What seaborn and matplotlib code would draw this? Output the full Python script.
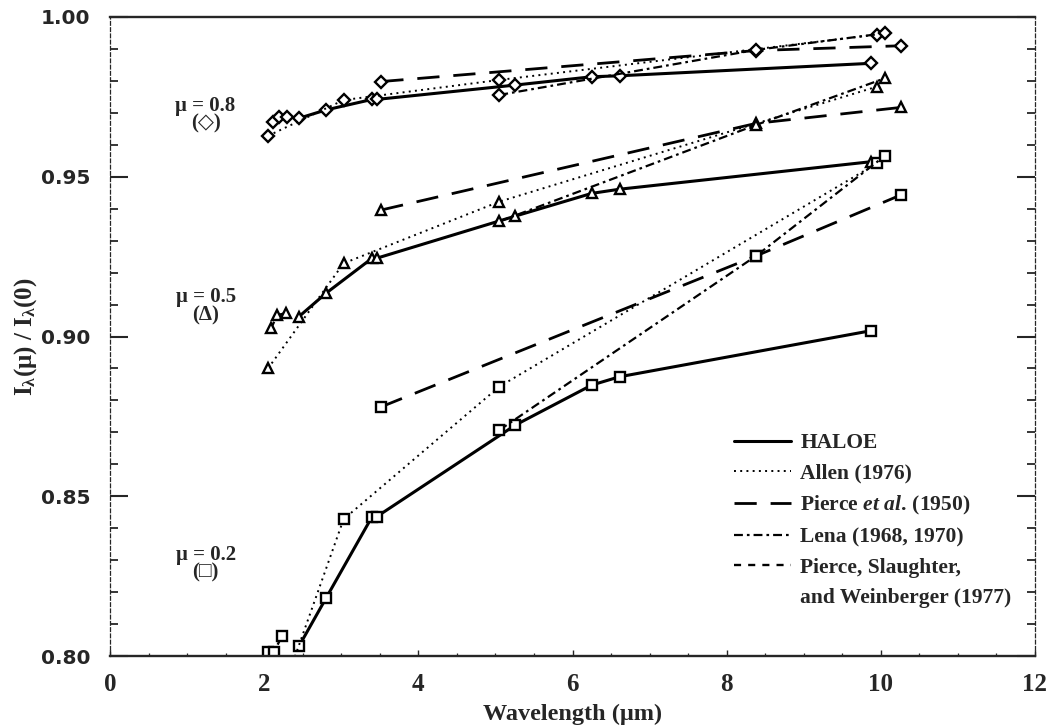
import matplotlib
matplotlib.use("Agg")
import matplotlib.pyplot as plt
from matplotlib.lines import Line2D
from matplotlib.ticker import MultipleLocator, FormatStrFormatter
import pandas as pd
import seaborn as sns

# ---- limb-darkening ratios I(mu)/I(0) versus wavelength (um) ----
# HALOE channels
haloe_wl = [2.45, 2.80, 3.40, 3.46, 5.26, 6.25, 6.61, 9.87]
haloe_mu08 = [0.9683, 0.9709, 0.9742, 0.9742, 0.9787, 0.9813, 0.9816, 0.9855]
haloe_mu05 = [0.9062, 0.9135, 0.9245, 0.9245, 0.9377, 0.9448, 0.9461, 0.9547]
haloe_mu02 = [0.8030, 0.8180, 0.8436, 0.8436, 0.8723, 0.8848, 0.8874, 0.9018]

# Allen (1976)
allen_wl = [2.05, 3.03, 5.05, 9.95]
allen_mu08 = [0.9628, 0.9740, 0.9803, 0.9945]
allen_mu05 = [0.8900, 0.9229, 0.9422, 0.9782]
allen_mu02 = [0.7760, 0.8428, 0.8843, 0.9542]

# Pierce et al. (1950)
pierce_wl = [3.52, 8.38, 10.26]
pierce_mu08 = [0.9798, 0.9895, 0.9910]
pierce_mu05 = [0.9396, 0.9667, 0.9717]
pierce_mu02 = [0.8780, 0.9252, 0.9443]

# Lena (1968, 1970)
lena_wl = [5.05, 8.38, 10.05]
lena_mu08 = [0.9756, 0.9897, 0.9949]
lena_mu05 = [0.9360, 0.9662, 0.9808]
lena_mu02 = [0.8707, 0.9252, 0.9565]

# Pierce, Slaughter, and Weinberger (1977)
psw_wl_mu08 = [2.11, 2.19, 2.30]
psw_mu08 = [0.9672, 0.9688, 0.9686]
psw_wl_mu05 = [2.09, 2.17, 2.28]
psw_mu05 = [0.9026, 0.9067, 0.9073]
psw_wl_mu02 = [2.05, 2.13, 2.23]
psw_mu02 = [0.8013, 0.8013, 0.8063]

sources = ["HALOE", "Allen (1976)", r"Pierce $\mathit{et\ al.}\,$(1950)",
           "Lena (1968, 1970)", "Pierce, Slaughter,"]
legend_extra_line = "and Weinberger (1977)"
mu_values = [0.8, 0.5, 0.2]

series = {
    sources[0]: [(haloe_wl, haloe_mu08), (haloe_wl, haloe_mu05), (haloe_wl, haloe_mu02)],
    sources[1]: [(allen_wl, allen_mu08), (allen_wl, allen_mu05), (allen_wl, allen_mu02)],
    sources[2]: [(pierce_wl, pierce_mu08), (pierce_wl, pierce_mu05), (pierce_wl, pierce_mu02)],
    sources[3]: [(lena_wl, lena_mu08), (lena_wl, lena_mu05), (lena_wl, lena_mu02)],
    sources[4]: [(psw_wl_mu08, psw_mu08), (psw_wl_mu05, psw_mu05), (psw_wl_mu02, psw_mu02)],
}

rows = []
for src, sets in series.items():
    for mu, (wl, vals) in zip(mu_values, sets):
        for w, v in zip(wl, vals):
            rows.append({"source": src, "mu": mu, "wl": w, "ratio": v})
df = pd.DataFrame(rows)

line_styles = {
    sources[0]: dict(ls="-", lw=2.2),
    sources[1]: dict(ls=(0, (1, 2.2)), lw=1.4),
    sources[2]: dict(ls=(0, (8, 5)), lw=2.0),
    sources[3]: dict(ls=(0, (4, 1.8, 1.2, 1.8)), lw=1.6),
    sources[4]: dict(ls=(0, (3, 3)), lw=1.7),
}
mu_markers = {0.8: ("D", 5.8), 0.5: ("^", 7.0), 0.2: ("s", 7.0)}

sns.set_style("ticks")
plt.rcParams["font.family"] = ["Liberation Serif", "DejaVu Sans"]
plt.rcParams["mathtext.fontset"] = "custom"
plt.rcParams["mathtext.rm"] = "Liberation Serif:bold"
plt.rcParams["mathtext.bf"] = "Liberation Serif:bold"
plt.rcParams["mathtext.it"] = "Liberation Serif:italic:bold"

fig = plt.figure(figsize=(10.5, 7.26), dpi=100)
ax = fig.add_axes([110 / 1050, 1 - 656 / 726, (1035 - 110) / 1050, (656 - 17) / 726])

for (src, mu), grp in df.groupby(["source", "mu"], sort=False):
    marker, msize = mu_markers[mu]
    st = line_styles[src]
    sns.lineplot(data=grp, x="wl", y="ratio", ax=ax, color="black",
                 linestyle=st["ls"], linewidth=st["lw"], marker=marker,
                 markersize=msize, markerfacecolor="white",
                 markeredgecolor="black", markeredgewidth=1.7,
                 legend=False, estimator=None, sort=True)

ax.set_xlim(0, 12)
ax.set_ylim(0.80, 1.00)

ax.xaxis.set_major_locator(MultipleLocator(2))
ax.xaxis.set_minor_locator(MultipleLocator(0.5))
ax.yaxis.set_major_locator(MultipleLocator(0.05))
ax.yaxis.set_minor_locator(MultipleLocator(0.01))
ax.yaxis.set_major_formatter(FormatStrFormatter("%.2f"))

ax.tick_params(axis="y", which="major", direction="in", length=13, width=1.5,
               left=True, right=True, pad=14)
ax.tick_params(axis="y", which="minor", direction="in", length=6, width=1.3,
               left=True, right=True)
ax.tick_params(axis="x", which="major", direction="in", length=4, width=1.0,
               top=False, pad=12)
ax.tick_params(axis="x", which="minor", direction="in", length=2.5, width=0.9,
               top=False)

for lab in ax.get_yticklabels():
    lab.set_fontfamily("DejaVu Sans")
    lab.set_fontweight("bold")
    lab.set_fontsize(14.5)
for lab in ax.get_xticklabels():
    lab.set_fontweight("bold")
    lab.set_fontsize(18)

for side in ["top", "bottom"]:
    ax.spines[side].set_linewidth(1.7)
for side in ["left", "right"]:
    ax.spines[side].set_linewidth(0.9)
    ax.spines[side].set_linestyle((0, (3, 2)))

ax.set_xlabel("Wavelength (μm)", fontsize=17.5, fontweight="bold", labelpad=6)
ax.set_ylabel(r"I$_{\mathbf{\lambda}}$(μ) / I$_{\mathbf{\lambda}}$(0)",
              fontsize=18, fontweight="bold")
ax.yaxis.set_label_coords(-0.077, 0.50)

# mu group labels
for mu, sym, yv in [(0.8, "◇", 0.9695), (0.5, "Δ", 0.9095), (0.2, "□", 0.8288)]:
    ax.text(1.24, yv, f"μ = {mu}\n({sym})", ha="center", va="center",
            fontsize=15, fontweight="bold", linespacing=0.85)

handles = [Line2D([], [], color="black", linestyle=line_styles[s]["ls"],
                  linewidth=line_styles[s]["lw"]) for s in sources]
handles.append(Line2D([], [], linestyle="none"))
labels = sources + [legend_extra_line]
leg = ax.legend(handles, labels, loc="upper left", bbox_to_anchor=(0.665, 0.362),
                frameon=False, prop={"weight": "bold", "size": 15.5},
                handlelength=2.65, handletextpad=0.45, labelspacing=0.48,
                borderaxespad=0)

fig.savefig("out.png", dpi=100)
